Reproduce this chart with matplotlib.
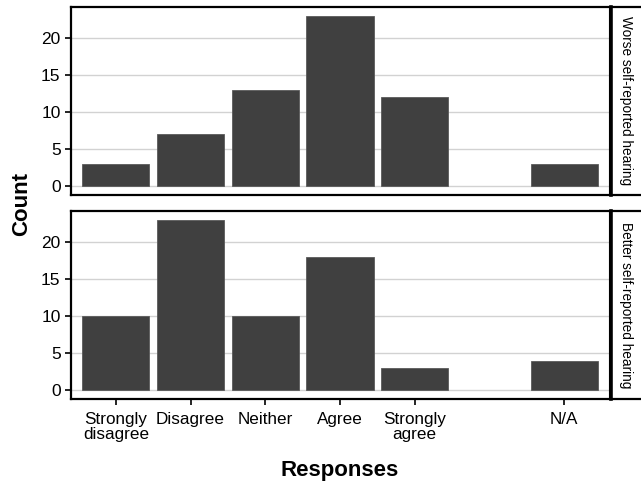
import numpy as np
import matplotlib.pyplot as plt

plt.rcParams['font.family'] = ['Liberation Sans', 'DejaVu Sans']

# response categories (slot 6 is empty in the original chart)
categories = ["Strongly\ndisagree", "Disagree", "Neither", "Agree", "Strongly\nagree", "N/A"]
positions = [1, 2, 3, 4, 5, 7]
worse_counts = [3, 7, 13, 23, 12, 3]
better_counts = [10, 23, 10, 18, 3, 4]
panel_labels = ["Worse self-reported hearing", "Better self-reported hearing"]

W, H = 641, 486
fig = plt.figure(figsize=(W / 100, H / 100), dpi=100)

left, right = 71, 609
panels = [(7, 195), (211, 399)]
bar_color = "#404040"

for i, (counts, label) in enumerate(zip([worse_counts, better_counts], panel_labels)):
    top, bottom = panels[i]
    ax = fig.add_axes([left / W, (H - bottom) / H, (right - left) / W, (bottom - top) / H])
    ax.bar(positions, counts, width=0.9, color=bar_color, edgecolor="#5a5a5a", linewidth=0.6, zorder=3)
    ax.set_xlim(0.4, 7.6)
    ax.set_ylim(-1.15, 24.15)
    ax.set_yticks([0, 5, 10, 15, 20])
    ax.yaxis.grid(True, color="#d2d2d2", linewidth=1.0, zorder=0)
    ax.set_axisbelow(True)
    for s in ["left", "bottom", "top"]:
        ax.spines[s].set_linewidth(1.6)
    ax.spines["right"].set_linewidth(0.8)
    ax.tick_params(axis="both", direction="out", length=4.5, width=1.2, labelsize=12.5,
                   colors="black", pad=3)
    ax.set_xticks(positions)
    if i == 1:
        ax.set_xticklabels(categories, fontsize=12.3, linespacing=1.0)
        ax.tick_params(axis="x", pad=5)
    else:
        ax.set_xticklabels([])
        ax.tick_params(axis="x", length=0)

    # facet strip on the right
    sx = fig.add_axes([611 / W, (H - bottom) / H, 40 / W, (bottom - top) / H])
    sx.set_xticks([])
    sx.set_yticks([])
    for s in sx.spines.values():
        s.set_linewidth(1.6)
    sx.spines["left"].set_linewidth(2.6)
    sx.text(15 / 40, 0.5, label, rotation=-90, ha="center", va="center", fontsize=9.8,
            transform=sx.transAxes)

fig.text(22 / W, 1 - 204 / H, "Count", rotation=90, ha="center", va="center",
         fontsize=16, fontweight="bold")
fig.text(340 / W, 1 - 470 / H, "Responses", ha="center", va="center",
         fontsize=16, fontweight="bold")

fig.savefig("out.png", dpi=100)
